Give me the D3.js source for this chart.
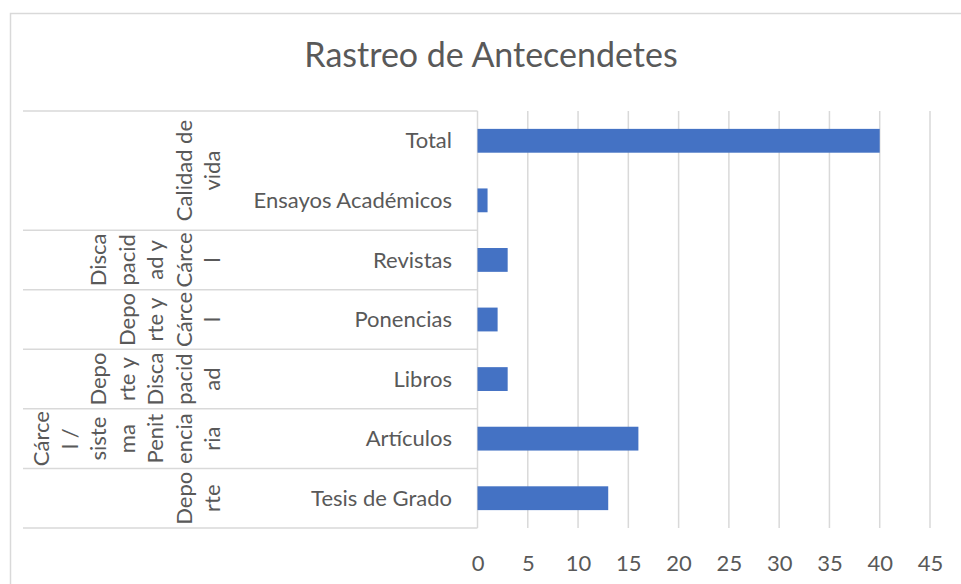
<!DOCTYPE html>
<html>
<head>
<meta charset="utf-8">
<script src="https://cdn.jsdelivr.net/npm/d3@7"></script>
<style>
  body { margin: 0; background: #fff; }
</style>
</head>
<body>
<div id="chart"></div>
<script>
// Datos del gráfico (de arriba hacia abajo)
const categories = ["Total", "Ensayos Académicos", "Revistas", "Ponencias", "Libros", "Artículos", "Tesis de Grado"];
const values = [40, 1, 3, 2, 3, 16, 13];
// Grupos (nivel exterior del eje), con el texto partido como en el original
const groupLines = [
    ["Calidad de", "vida"],
    ["Disca", "pacid", "ad y", "Cárce", "l"],
    ["Depo", "rte y", "Cárce", "l"],
    ["Depo", "rte y", "Disca", "pacid", "ad"],
    ["Cárce", "l /", "siste", "ma", "Penit", "encia", "ria"],
    ["Depo", "rte"]
];
const groupSizes = [2, 1, 1, 1, 1, 1];
const xTicks = [0, 5, 10, 15, 20, 25, 30, 35, 40, 45];
const title = "Rastreo de Antecendetes";

const W = 961, H = 584;
const font = "Lato, 'Open Sans', sans-serif";
const textColor = "#595959";
const gridColor = "#d9d9d9";

const svg = d3.select("#chart")
    .append("svg")
    .attr("width", W)
    .attr("height", H)
    .style("font-family", font);

// Borde del área del gráfico
svg.append("rect")
    .attr("x", 10.5).attr("y", 13.5)
    .attr("width", W + 20).attr("height", H + 20)
    .attr("fill", "none")
    .attr("stroke", gridColor)
    .attr("stroke-width", 1.5);

// Título
svg.append("text")
    .attr("x", 491)
    .attr("y", 67)
    .attr("text-anchor", "middle")
    .style("font-size", "34px")
    .style("fill", textColor)
    .text(title);

// Escalas
const x = d3.scaleLinear().domain([0, 45]).range([477.5, 930]);
const y = d3.scaleBand().domain(categories).range([111, 528]).padding(0);
const barH = y.bandwidth() * 0.4;

// Líneas de cuadrícula
svg.append("g")
    .selectAll("line")
    .data(xTicks)
    .join("line")
    .attr("x1", d => x(d)).attr("x2", d => x(d))
    .attr("y1", y.range()[0]).attr("y2", y.range()[1])
    .attr("stroke", gridColor)
    .attr("stroke-width", 1.5);

// Barras
svg.append("g")
    .selectAll("rect")
    .data(values)
    .join("rect")
    .attr("x", x(0))
    .attr("y", (d, i) => y(categories[i]) + (y.bandwidth() - barH) / 2)
    .attr("width", d => x(d) - x(0))
    .attr("height", barH)
    .attr("fill", "#4472C4");

// Eje X (etiquetas)
const xAxis = svg.append("g")
    .attr("transform", `translate(0, ${y.range()[1]})`)
    .call(d3.axisBottom(x).tickValues(xTicks).tickSize(0).tickPadding(27));
xAxis.select(".domain").remove();
xAxis.selectAll("text")
    .style("font-size", "22px")
    .style("font-family", font)
    .style("fill", textColor);

// Etiquetas internas de categorías
svg.append("g")
    .selectAll("text")
    .data(categories)
    .join("text")
    .attr("x", 452)
    .attr("y", d => y(d) + y.bandwidth() / 2)
    .attr("dy", "0.35em")
    .attr("text-anchor", "end")
    .style("font-size", "22px")
    .style("fill", textColor)
    .text(d => d);

// Separadores de grupos y etiquetas exteriores rotadas
let start = 0;
const bounds = [0];
groupSizes.forEach(n => { start += n; bounds.push(start); });
const rowY = i => i < categories.length ? y(categories[i]) : y.range()[1];

svg.append("g")
    .selectAll("line")
    .data(bounds)
    .join("line")
    .attr("x1", 23).attr("x2", x(0))
    .attr("y1", d => rowY(d)).attr("y2", d => rowY(d))
    .attr("stroke", gridColor)
    .attr("stroke-width", 1.5);

const lineGap = 28.5, lastBase = 220;
groupLines.forEach((lines, g) => {
    const cy = (rowY(bounds[g]) + rowY(bounds[g + 1])) / 2;
    const n = lines.length;
    svg.append("g")
        .selectAll("text")
        .data(lines)
        .join("text")
        .attr("transform", (d, k) => `translate(${lastBase - (n - 1 - k) * lineGap}, ${cy}) rotate(-90)`)
        .attr("text-anchor", "middle")
        .style("font-size", "22px")
        .style("fill", textColor)
        .text(d => d);
});
</script>
</body>
</html>
